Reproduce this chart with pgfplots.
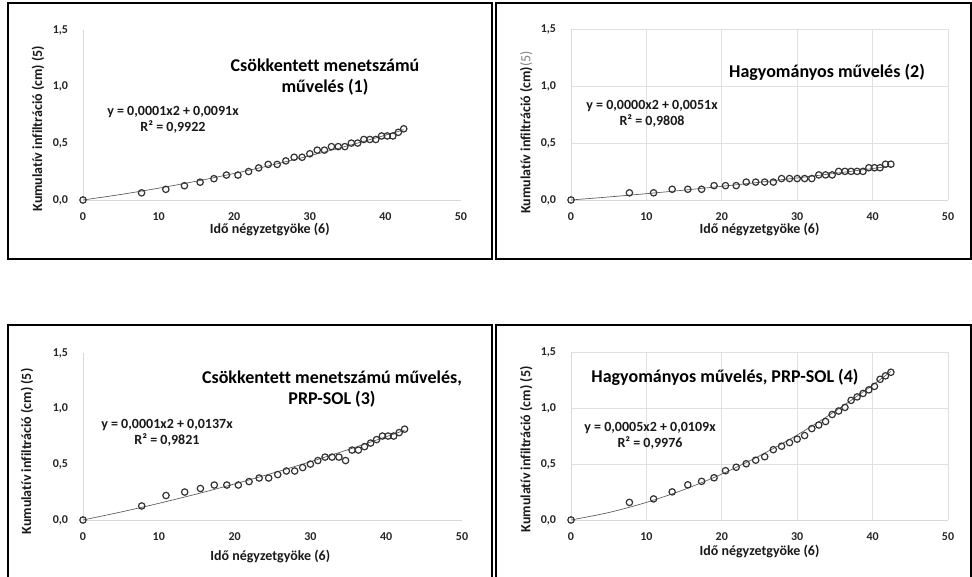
\documentclass[border=0pt]{standalone}
\usepackage{fontspec}
\setmainfont[Ligatures=NoCommon]{Carlito}
\usepackage{pgfplots}
\usepackage{pgfplotstable}
\pgfplotsset{compat=1.18}
\pgfplotstableread{
x a b c d
0 0 0 0 0
7.746 0.063 0.063 0.126 0.157
10.954 0.094 0.063 0.220 0.188
13.416 0.126 0.094 0.251 0.251
15.492 0.157 0.094 0.283 0.314
17.321 0.188 0.094 0.314 0.345
18.974 0.220 0.126 0.314 0.377
20.494 0.220 0.126 0.314 0.440
21.909 0.251 0.126 0.345 0.471
23.238 0.283 0.157 0.377 0.502
24.495 0.314 0.157 0.377 0.534
25.690 0.314 0.157 0.408 0.565
26.833 0.345 0.157 0.440 0.628
27.928 0.377 0.188 0.440 0.659
28.983 0.377 0.188 0.471 0.691
30.000 0.408 0.188 0.502 0.722
30.984 0.440 0.188 0.534 0.754
31.937 0.440 0.188 0.565 0.816
32.863 0.471 0.220 0.565 0.848
33.764 0.471 0.220 0.565 0.879
34.641 0.471 0.220 0.534 0.942
35.496 0.502 0.251 0.628 0.973
36.332 0.502 0.251 0.628 1.005
37.148 0.534 0.251 0.659 1.068
37.947 0.534 0.251 0.691 1.099
38.730 0.534 0.251 0.722 1.130
39.497 0.565 0.283 0.754 1.162
40.249 0.565 0.283 0.754 1.193
40.988 0.565 0.283 0.754 1.256
41.713 0.597 0.314 0.785 1.287
42.426 0.628 0.314 0.816 1.319
}\data
\pgfplotstableread{
x a b c d
0 0 0 0 0
5 0.0488 0.0266 0.0716 0.0665
10 0.104 0.0555 0.1495 0.157
15 0.1658 0.0866 0.2336 0.2715
20 0.234 0.120 0.324 0.410
25 0.3088 0.1556 0.4206 0.5725
30 0.390 0.1935 0.5235 0.759
35 0.4778 0.2336 0.6326 0.9695
40 0.572 0.276 0.748 1.204
42.43 0.620 0.2974 0.806 1.3267
}\trend
\pgfplotsset{
  panel/.style={
    scale only axis,
    xmin=0, xmax=50, ymin=0, ymax=1.5,
    xtick={0,10,...,50}, ytick={0,0.5,1,1.5},
    axis x line=bottom, axis y line=left,
    axis line style={draw=black!15, line width=0.6pt, -},
    major tick length=0pt,
    /pgf/number format/assume math mode=true,
    tick label style={font=\bfseries\fontsize{9}{10}\selectfont, text=black!85, inner sep=0pt},
    yticklabel style={anchor=east, xshift=-11pt,
      /pgf/number format/fixed, /pgf/number format/fixed zerofill,
      /pgf/number format/precision=1, /pgf/number format/use comma},
    xticklabel style={anchor=center, yshift=-12.75pt},
    label style={font=\bfseries\fontsize{10.5}{12}\selectfont, text=black!90, inner sep=0pt},
    xlabel={Idő négyzetgyöke (6)},
    ylabel={Kumulatív infiltráció (cm) (5)},
    clip=false,
  },
  gridded/.style={grid=major, grid style={draw=black!12, line width=0.5pt}},
  pts/.style={only marks, mark=o, mark size=2.4pt, mark options={draw=black!80, fill=white, line width=0.9pt}},
  fit/.style={no marks, smooth, draw=black!65, line width=0.5pt},
}
\begin{document}
\begin{tikzpicture}
\path[use as bounding box] (0pt,0pt) rectangle (729pt,432.75pt);
\draw[line width=0.9pt, black] (6pt,430.5pt) rectangle (369pt,238.5pt);
\draw[line width=0.9pt, black] (372pt,430.5pt) rectangle (728.25pt,238.5pt);
\draw[line width=0.9pt, black] (6pt,189pt) rectangle (369pt,-3.75pt);
\draw[line width=0.9pt, black] (372pt,189pt) rectangle (728.25pt,-3.75pt);

% Panel 1
\begin{axis}[panel, at={(62.25pt,282.75pt)}, anchor=south west, width=283.5pt, height=127.5pt,
  xlabel style={at={(axis description cs:0.494,-0.176)}, anchor=center},
  ylabel style={at={(axis description cs:-0.119,0.42)}, anchor=center}]
\addplot[fit] table[x=x,y=a]{\trend};
\addplot[pts] table[x=x,y=a]{\data};
\end{axis}

% Panel 2
\begin{axis}[panel, gridded, at={(428.25pt,282.75pt)}, anchor=south west, width=282.75pt, height=128.25pt,
  ylabel={Kumulatív infiltráció (cm){\mdseries\color{black!50}(5)}},
  xlabel style={at={(axis description cs:0.5,-0.175)}, anchor=center},
  ylabel style={at={(axis description cs:-0.119,0.395)}, anchor=center}]
\addplot[fit] table[x=x,y=b]{\trend};
\addplot[pts] table[x=x,y=b]{\data};
\end{axis}

% Panel 3
\begin{axis}[panel, at={(62.25pt,42.75pt)}, anchor=south west, width=284.25pt, height=125.25pt,
  xlabel style={at={(axis description cs:0.494,-0.22)}, anchor=center},
  ylabel style={at={(axis description cs:-0.148,0.41)}, anchor=center}]
\addplot[fit] table[x=x,y=c]{\trend};
\addplot[pts] table[x=x,y=c]{\data};
\end{axis}

% Panel 4
\begin{axis}[panel, gridded, at={(428.25pt,42.75pt)}, anchor=south west, width=282.75pt, height=126pt,
  xlabel style={at={(axis description cs:0.5,-0.185)}, anchor=center},
  ylabel style={at={(axis description cs:-0.119,0.42)}, anchor=center}]
\addplot[fit] table[x=x,y=d]{\trend};
\addplot[pts] table[x=x,y=d]{\data};
\end{axis}

% Titles
\begin{scope}[every node/.style={inner sep=0pt, align=center, font=\bfseries\fontsize{13.5}{15.5}\selectfont, text=black}]
\node at (243.75pt,375pt) {Csökkentett menetszámú\\művelés (1)};
\node at (620.25pt,378.75pt) {Hagyományos művelés (2)};
\node at (249pt,141pt) {Csökkentett menetszámú művelés,\\PRP-SOL (3)};
\node at (543.75pt,150pt) {Hagyományos művelés, PRP-SOL (4)};
\end{scope}
% Equations
\begin{scope}[every node/.style={inner sep=0pt, align=center, font=\bfseries\fontsize{10.5}{12}\selectfont, text=black!90}]
\node at (129.75pt,342.75pt) {y = 0,0001x2 + 0,0091x\\R² = 0,9922};
\node at (489pt,347.6pt) {y = 0,0000x2 + 0,0051x\\R² = 0,9808};
\node at (125.25pt,108pt) {y = 0,0001x2 + 0,0137x\\R² = 0,9821};
\node at (487.5pt,105.75pt) {y = 0,0005x2 + 0,0109x\\R² = 0,9976};
\end{scope}
\end{tikzpicture}
\end{document}
